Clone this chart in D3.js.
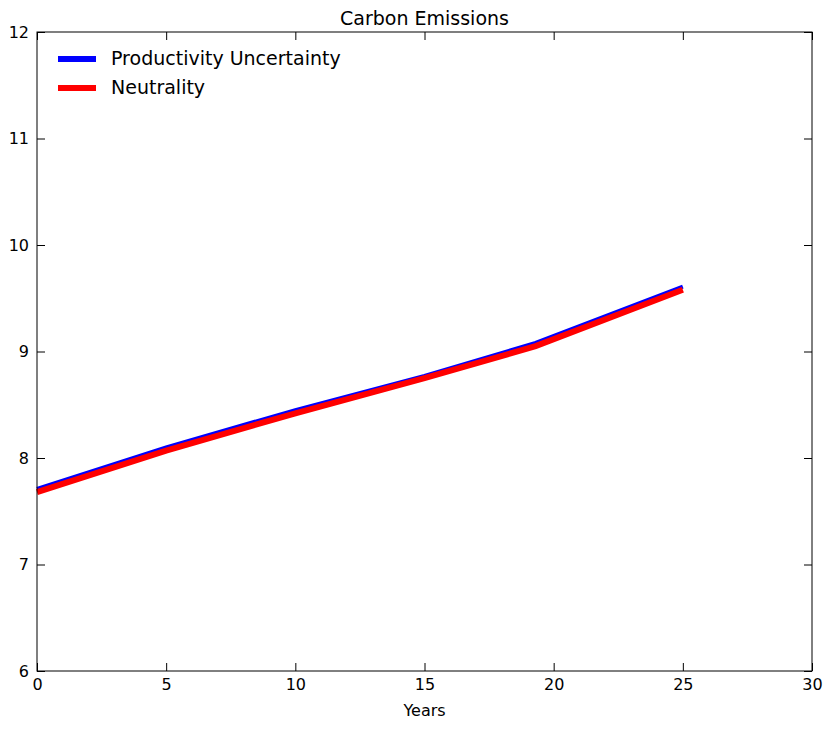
<!DOCTYPE html>
<html><head><meta charset="utf-8">
<script src="https://cdn.jsdelivr.net/npm/d3@7"></script>
<style>body{margin:0;background:#fff;font-family:"DejaVu Sans",sans-serif}</style>
</head><body><div id="chart"></div>
<script>
// Series values
const years = [0, 5, 10, 15, 19.3, 25];
const productivity = [7.71, 8.10, 8.45, 8.77, 9.08, 9.61];
const neutrality = [7.68, 8.07, 8.42, 8.75, 9.05, 9.58];
const xTicks = [0, 5, 10, 15, 20, 25, 30];
const yTicks = [6, 7, 8, 9, 10, 11, 12];

const W = 832, H = 730;
const margin = { top: 32, right: 20, bottom: 59, left: 37 };
const w = W - margin.left - margin.right, h = H - margin.top - margin.bottom;

const svg = d3.select("#chart").append("svg").attr("width", W).attr("height", H);
const g = svg.append("g").attr("transform", `translate(${margin.left},${margin.top})`);

const x = d3.scaleLinear().domain([0, 30]).range([0, w]);
const y = d3.scaleLinear().domain([6, 12]).range([h, 0]);

// Axes with inward ticks on all four sides
const styleAxis = a => {
    a.select(".domain").remove();
    a.selectAll("line").attr("stroke", "#000");
    a.selectAll("text").attr("font-size", 16).attr("font-family", "DejaVu Sans").attr("fill", "#000");
};
g.append("g").attr("transform", `translate(0,${h})`)
    .call(d3.axisBottom(x).tickValues(xTicks).tickFormat(d3.format("d")).tickSizeInner(-8).tickPadding(8)).call(styleAxis);
g.append("g").call(d3.axisTop(x).tickValues(xTicks).tickSizeInner(-8).tickFormat("")).call(styleAxis);
g.append("g").call(d3.axisLeft(y).tickValues(yTicks).tickFormat(d3.format("d")).tickSizeInner(-8).tickPadding(8)).call(styleAxis);
g.append("g").attr("transform", `translate(${w},0)`)
    .call(d3.axisRight(y).tickValues(yTicks).tickSizeInner(-8).tickFormat("")).call(styleAxis);

const line = d3.line().x((d, i) => x(years[i])).y(d => y(d));
g.append("path").datum(productivity).attr("d", line).attr("fill", "none").attr("stroke", "#0000ff").attr("stroke-width", 4);
g.append("path").datum(neutrality).attr("d", line).attr("fill", "none").attr("stroke", "#ff0000").attr("stroke-width", 6);

g.append("rect").attr("width", w).attr("height", h).attr("fill", "none").attr("stroke", "#000");

// Title and label
svg.append("text").attr("x", margin.left + w / 2).attr("y", 25).attr("text-anchor", "middle")
    .attr("font-size", 19).text("Carbon Emissions");
svg.append("text").attr("x", margin.left + w / 2).attr("y", 716).attr("text-anchor", "middle")
    .attr("font-size", 16).text("Years");

// Legend
const legend = [["Productivity Uncertainty", "#0000ff"], ["Neutrality", "#ff0000"]];
legend.forEach(([name, c], i) => {
    const ly = 59 + i * 29;
    svg.append("line").attr("x1", 58).attr("x2", 96).attr("y1", ly).attr("y2", ly)
        .attr("stroke", c).attr("stroke-width", 6);
    svg.append("text").attr("x", 111).attr("y", ly + 6).attr("font-size", 19).text(name);
});
</script></body></html>
